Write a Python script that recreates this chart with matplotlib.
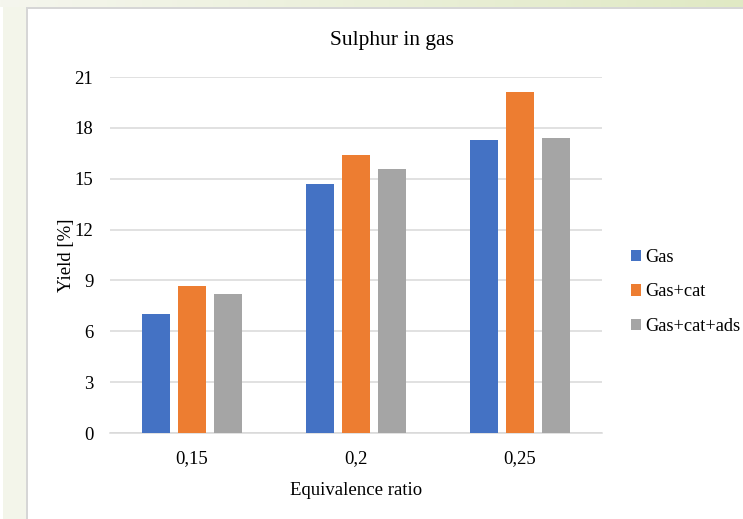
#!/usr/bin/env python3
"""
Sulphur in gas: grouped bar chart of yield vs. equivalence ratio.

Output: out.png
"""

import numpy as np
import matplotlib.pyplot as plt
from matplotlib.patches import Rectangle

# ---- Data ------------------------------------------------------------------
RATIOS   = ["0,15", "0,2", "0,25"]
GAS      = [7.0, 14.7, 17.3]
GAS_CAT  = [8.7, 16.4, 20.1]
GAS_ADS  = [8.2, 15.6, 17.4]
SERIES   = ["Gas", "Gas+cat", "Gas+cat+ads"]
COLORS   = ["#4472c4", "#ed7d31", "#a5a5a5"]
Y_TICKS  = [0, 3, 6, 9, 12, 15, 18, 21]

plt.rcParams.update({
    "font.family": ["Liberation Serif", "DejaVu Serif"],
    "font.size":   13,
})

W, H = 743, 519
fig = plt.figure(figsize=(W / 100, H / 100), dpi=100)

# ---- Page backdrop: pale green strips on top and left, framed white card ----
grad = fig.add_axes([0, 1 - 7 / H, 1, 7 / H], zorder=-5)
grad.imshow(np.linspace(0, 1, 256)[None, :],
            cmap=plt.matplotlib.colors.LinearSegmentedColormap.from_list(
                "strip", ["#f5f6ee", "#e0e9c4"]),
            aspect="auto", extent=[0, 1, 0, 1])
grad.set_axis_off()
fig.patches.append(Rectangle((3 / W, 0), 23 / W, 1 - 7 / H,
                             transform=fig.transFigure, facecolor="#f3f5ea",
                             edgecolor="none", zorder=-6))
fig.patches.append(Rectangle((26 / W, 0), 2 / W, 1 - 7 / H,
                             transform=fig.transFigure, facecolor="#d6d6d6",
                             edgecolor="none", zorder=-4))
fig.patches.append(Rectangle((26 / W, 1 - 9 / H), 1 - 26 / W, 2 / H,
                             transform=fig.transFigure, facecolor="#d6d6d6",
                             edgecolor="none", zorder=-4))

# ---- Bars ------------------------------------------------------------------
ax = fig.add_axes([110 / W, 1 - 433 / H, 492 / W, 356 / H])
x = np.arange(len(RATIOS))
width, step = 0.17, 0.222
for i, (vals, name, col) in enumerate(zip([GAS, GAS_CAT, GAS_ADS], SERIES, COLORS)):
    ax.bar(x + (i - 1) * step, vals, width=width, color=col, label=name, zorder=3)

ax.set_xlim(-0.5, len(RATIOS) - 0.5)
ax.set_ylim(0, 21)
ax.set_yticks(Y_TICKS)
ax.set_xticks(x, RATIOS)
ax.yaxis.grid(True, color="#d9d9d9", linewidth=1.1, zorder=0)
ax.set_axisbelow(True)
for side in ("top", "right", "left"):
    ax.spines[side].set_visible(False)
ax.spines["bottom"].set_color("#d9d9d9")
ax.spines["bottom"].set_linewidth(1.1)
ax.tick_params(axis="both", length=0, labelsize=13.5)
ax.tick_params(axis="y", pad=12)
ax.tick_params(axis="x", pad=12)

ax.set_xlabel("Equivalence ratio", fontsize=13.5, labelpad=11)
ax.set_ylabel("Yield [%]", fontsize=13.5, labelpad=0)

fig.text(392 / W, 1 - 40 / H, "Sulphur in gas", ha="center", va="center",
         fontsize=15.5)

ax.legend(loc="center left", bbox_to_anchor=(631 / W, 1 - 292 / H),
          bbox_transform=fig.transFigure, frameon=False, fontsize=13.2,
          handlelength=0.55, handleheight=0.55, handletextpad=0.25,
          labelspacing=0.95, borderpad=0, borderaxespad=0)

fig.savefig("out.png", dpi=100)
